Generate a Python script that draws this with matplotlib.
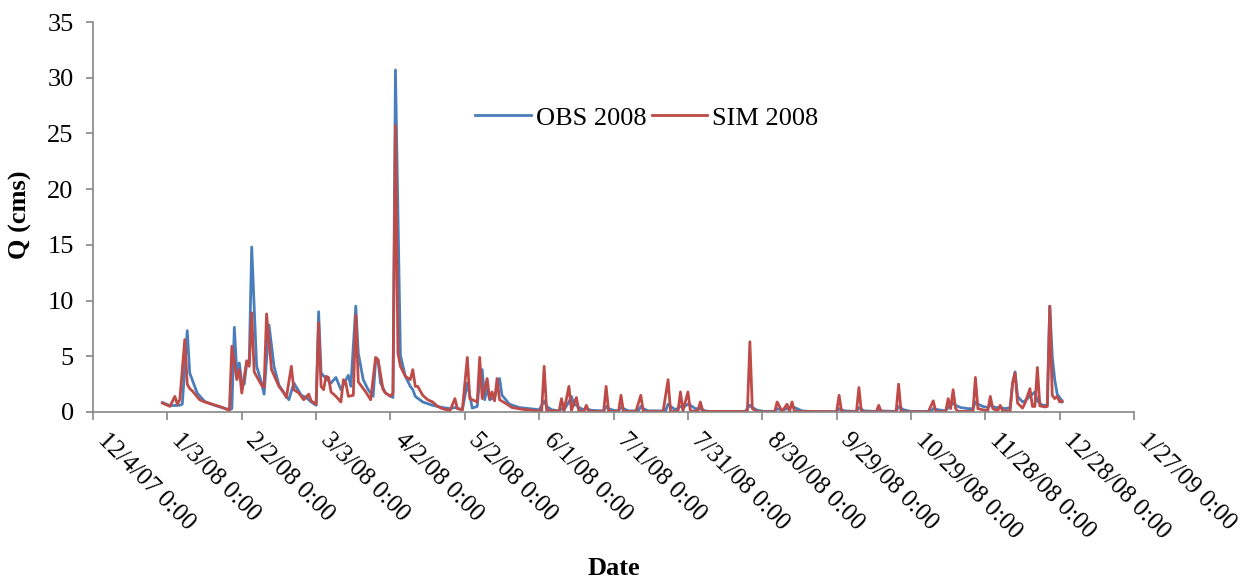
"""Observed vs simulated daily streamflow for 2008."""

import matplotlib
matplotlib.use("Agg")
import matplotlib.pyplot as plt
import pandas as pd

START = pd.Timestamp("2008-01-01")

# day offset from 1/1/08 and discharge (cms)
obs_day = [0, 3, 7, 8, 10, 11, 14, 17, 21, 24, 27, 28, 29, 30, 31, 32, 33, 34, 35, 36,
           38, 40, 41, 43, 45, 47, 50, 51, 53, 56, 58, 60, 62, 63, 64, 66, 68, 70, 72, 75,
           76, 78, 79, 81, 83, 85, 86, 87, 88, 90, 93, 94, 96, 98, 100, 101, 102, 105, 109, 113,
           116, 118, 121, 123, 125, 127, 128, 129, 130, 131, 132, 134, 136, 137, 140, 144, 152, 154, 155, 157,
           160, 161, 162, 164, 165, 166, 167, 168, 170, 171, 173, 178, 179, 180, 182, 184, 185, 186, 188, 192,
           193, 194, 196, 203, 204, 205, 207, 209, 210, 212, 213, 215, 217, 219, 222, 235, 237, 238, 240, 243,
           247, 248, 250, 252, 254, 256, 258, 262, 272, 273, 275, 280, 281, 283, 288, 289, 296, 297, 299, 302,
           310, 311, 313, 316, 317, 319, 320, 322, 325, 327, 328, 329, 331, 333, 334, 336, 338, 340, 342, 343,
           344, 345, 347, 348, 350, 352, 353, 355, 357, 358, 359, 360, 361, 362, 363]
obs_q = [0.85, 0.57, 0.6, 0.7, 7.3, 3.5, 1.7, 0.95, 0.6, 0.4, 0.2, 0.3, 7.6, 3.5, 4.4, 2.6, 2.5, 4.4, 4.4, 14.8,
         4.1, 2.6, 1.6, 7.8, 4.1, 2.4, 1.4, 1.1, 2.6, 1.5, 1.3, 0.9, 0.6, 9.0, 3.5, 3.0, 2.6, 3.1, 2.0, 3.3,
         2.3, 9.5, 5.3, 2.9, 2.0, 1.4, 4.6, 4.6, 2.6, 1.7, 1.3, 30.7, 5.1, 3.2, 2.3, 2.0, 1.4, 0.9, 0.6, 0.4,
         0.3, 0.4, 0.2, 2.6, 0.35, 0.5, 3.0, 3.8, 1.1, 2.2, 1.1, 1.3, 3.0, 1.5, 0.7, 0.4, 0.2, 1.0, 0.5, 0.2,
         0.1, 0.3, 0.2, 0.9, 1.4, 0.7, 0.6, 0.4, 0.2, 0.3, 0.15, 0.1, 0.5, 0.3, 0.15, 0.1, 0.4, 0.3, 0.1, 0.1,
         0.5, 0.3, 0.1, 0.1, 0.7, 0.5, 0.2, 0.5, 0.4, 0.7, 0.6, 0.3, 0.3, 0.1, 0.02, 0.02, 0.6, 0.4, 0.15, 0.05,
         0.05, 0.3, 0.15, 0.3, 0.5, 0.3, 0.1, 0.03, 0.03, 0.3, 0.1, 0.05, 0.4, 0.1, 0.05, 0.1, 0.05, 0.5, 0.2, 0.05,
         0.05, 0.3, 0.2, 0.1, 0.4, 0.8, 0.6, 0.4, 0.3, 0.3, 0.9, 0.7, 0.5, 0.4, 0.6, 0.4, 0.4, 0.3, 0.4, 2.6,
         3.6, 1.4, 0.9, 1.0, 1.4, 1.8, 1.0, 0.6, 0.6, 9.5, 5.0, 2.9, 1.6, 1.3, 0.9]

sim_day = [0, 3, 5, 6, 7, 9, 10, 11, 12, 15, 17, 20, 23, 27, 28, 30, 31, 32, 34, 35,
           36, 37, 40, 41, 42, 44, 47, 49, 50, 52, 53, 55, 57, 59, 60, 62, 63, 64, 65, 66,
           67, 68, 70, 72, 73, 74, 75, 77, 78, 79, 82, 84, 86, 87, 89, 90, 92, 93, 94, 95,
           96, 98, 100, 101, 102, 103, 105, 107, 109, 111, 113, 116, 118, 119, 121, 123, 124, 127, 128, 129,
           131, 132, 133, 134, 135, 136, 139, 141, 145, 151, 153, 154, 155, 160, 161, 162, 164, 165, 167, 168,
           170, 171, 172, 178, 179, 180, 184, 185, 186, 191, 193, 194, 202, 204, 205, 208, 209, 210, 212, 213,
           216, 217, 218, 236, 237, 238, 240, 247, 248, 250, 252, 253, 254, 255, 272, 273, 274, 280, 281, 282,
           288, 289, 290, 296, 297, 298, 309, 311, 312, 316, 317, 318, 319, 320, 321, 327, 328, 329, 333, 334,
           335, 337, 338, 339, 342, 343, 344, 345, 347, 348, 350, 351, 352, 353, 354, 356, 357, 358, 359, 360,
           361, 362, 363]
sim_q = [0.8, 0.5, 1.4, 0.7, 1.1, 6.5, 2.5, 2.1, 1.9, 1.1, 0.9, 0.7, 0.5, 0.15, 5.9, 2.9, 3.8, 1.7, 4.6, 4.1,
         8.9, 3.6, 2.4, 2.2, 8.8, 3.8, 2.3, 1.7, 1.3, 4.1, 2.0, 1.7, 1.1, 1.6, 1.0, 0.7, 8.0, 2.3, 2.0, 3.2,
         3.1, 1.8, 1.4, 0.9, 2.9, 2.6, 1.4, 1.5, 8.7, 2.7, 1.8, 1.1, 4.9, 4.7, 2.0, 1.7, 1.4, 1.7, 25.7, 5.3,
         4.1, 3.2, 2.9, 3.8, 2.3, 2.3, 1.5, 1.1, 0.9, 0.5, 0.3, 0.12, 1.2, 0.3, 0.2, 4.9, 1.2, 0.9, 4.9, 1.2,
         3.0, 1.2, 1.8, 1.0, 3.0, 1.1, 0.7, 0.4, 0.25, 0.1, 0.1, 4.1, 0.15, 0.05, 1.2, 0.1, 2.3, 0.15, 1.3, 0.1,
         0.05, 0.6, 0.05, 0.05, 2.3, 0.05, 0.05, 1.5, 0.05, 0.05, 1.5, 0.05, 0.05, 2.9, 0.05, 0.05, 1.8, 0.1, 1.8, 0.1,
         0.05, 0.9, 0.05, 0.05, 6.3, 0.3, 0.02, 0.02, 0.9, 0.05, 0.7, 0.05, 0.9, 0.05, 0.02, 1.5, 0.02, 0.02, 2.2, 0.02,
         0.02, 0.6, 0.02, 0.02, 2.5, 0.02, 0.02, 1.0, 0.02, 0.05, 1.2, 0.3, 2.0, 0.3, 0.05, 0.05, 3.1, 0.3, 0.1, 1.4,
         0.3, 0.1, 0.6, 0.1, 0.1, 2.6, 3.5, 0.8, 0.35, 0.8, 2.1, 0.5, 0.5, 4.0, 0.55, 0.45, 0.5, 9.5, 1.5, 1.2,
         1.4, 0.9, 1.0]

AXIS_START = pd.Timestamp("2007-12-04")
AXIS_END = pd.Timestamp("2009-01-27")
Y_TICKS = [0, 5, 10, 15, 20, 25, 30, 35]

OBS_COLOR = "#4A7EBB"
SIM_COLOR = "#BE4B48"
GRAY = "#868686"
FS = 19

plt.rcParams["font.family"] = ["Liberation Serif", "DejaVu Serif"]


def to_dates(days):
    return START + pd.to_timedelta(days, unit="D")


fig = plt.figure(figsize=(12.56, 5.81), dpi=100)
ax = fig.add_axes([0.0741, 0.2909, 0.8288, 0.6712])

ax.plot(to_dates(obs_day), obs_q, color=OBS_COLOR, lw=2.0, label="OBS 2008")
ax.plot(to_dates(sim_day), sim_q, color=SIM_COLOR, lw=2.0, label="SIM 2008")

ax.set_xlim(AXIS_START, AXIS_END)
ax.set_ylim(0, 35)
ax.set_yticks(Y_TICKS)

xticks = pd.date_range(AXIS_START, AXIS_END, freq="30D")
ax.set_xticks(xticks)
# slanted labels hang down-right from each tick (bounding box corner at the tick)
ax.set_xticklabels([f"{d.month}/{d.day}/{d.strftime('%y')} 0:00" for d in xticks],
                   rotation=-45, ha="left", va="top", rotation_mode="default")

for side in ("top", "right"):
    ax.spines[side].set_visible(False)
for side in ("left", "bottom"):
    ax.spines[side].set_color(GRAY)
    ax.spines[side].set_linewidth(1.2)
ax.tick_params(axis="x", colors=GRAY, length=6, width=1.2, labelcolor="black",
               labelsize=18, pad=6)
ax.tick_params(axis="y", colors=GRAY, length=5, width=1.2, labelcolor="black",
               labelsize=FS, pad=9)

ax.set_xlabel("Date", fontsize=FS, fontweight="bold")
ax.xaxis.set_label_coords(0.5, -0.372)
ax.set_ylabel("Q (cms)", fontsize=FS, fontweight="bold")
ax.yaxis.set_label_coords(-0.0586, 0.505)

ax.legend(loc="center", bbox_to_anchor=(0.532, 0.754), ncol=2, frameon=False,
          fontsize=FS, handlelength=2.1, handletextpad=0.2, columnspacing=0.2)

fig.savefig("out.png", dpi=100)
plt.close(fig)
